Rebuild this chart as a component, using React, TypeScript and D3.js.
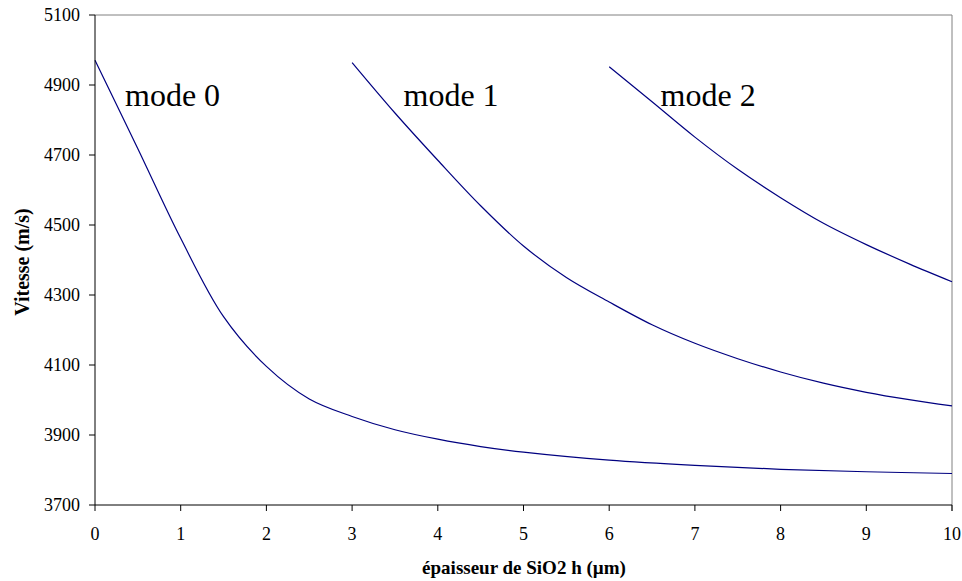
import React from "react";
import * as d3 from "d3";

const xTicks = [0, 1, 2, 3, 4, 5, 6, 7, 8, 9, 10];
const yTicks = [3700, 3900, 4100, 4300, 4500, 4700, 4900, 5100];

const mode0H = [0, 0.5, 1, 1.5, 2, 2.5, 3, 3.5, 4, 4.5, 5, 6, 7, 8, 9, 10];
const mode0V = [4971, 4718, 4462, 4238, 4096, 4003, 3953, 3915, 3888, 3867, 3851, 3828, 3813, 3802, 3795, 3790];

const mode1H = [3, 3.5, 4, 4.5, 5, 5.5, 6, 6.5, 7, 7.5, 8, 8.5, 9, 9.5, 10];
const mode1V = [4964, 4820, 4685, 4555, 4440, 4350, 4280, 4215, 4162, 4118, 4080, 4048, 4022, 4001, 3983];

const mode2H = [6, 6.5, 7, 7.5, 8, 8.5, 9, 9.5, 10];
const mode2V = [4952, 4852, 4751, 4659, 4578, 4505, 4444, 4389, 4338];

const labels = ["mode 0", "mode 1", "mode 2"];
const labelH = [0.35, 3.6, 6.6];

export default function App() {
  const W = 962, H = 581;
  const left = 95, right = 952, top = 15, bottom = 505;
  const x = d3.scaleLinear().domain([0, 10]).range([left, right]);
  const y = d3.scaleLinear().domain([3700, 5100]).range([bottom, top]);
  const line = d3
    .line<[number, number]>()
    .x((d) => x(d[0]))
    .y((d) => y(d[1]))
    .curve(d3.curveCatmullRom.alpha(0.5));
  const series = [
    [mode0H, mode0V],
    [mode1H, mode1V],
    [mode2H, mode2V],
  ].map(([hs, vs]) => hs.map((h, i) => [h, vs[i]] as [number, number]));
  const ff = { fontFamily: "Liberation Serif" };
  return (
    <svg width={W} height={H} style={{ position: "absolute", left: 0, top: 0, background: "#fff" }}>
      <rect x={0} y={0} width={W} height={H} fill="#fff" />
      <line x1={left} y1={top} x2={right} y2={top} stroke="#808080" strokeWidth={1} />
      <line x1={right} y1={top} x2={right} y2={bottom + 6} stroke="#808080" strokeWidth={1} />
      {series.map((s, i) => (
        <path key={i} d={line(s) || ""} fill="none" stroke="#000080" strokeWidth={1.2} />
      ))}
      <line x1={left} y1={top} x2={left} y2={bottom} stroke="#000" strokeWidth={1} />
      <line x1={left} y1={bottom} x2={right} y2={bottom} stroke="#000" strokeWidth={1} />
      {yTicks.map((t) => (
        <g key={t}>
          <line x1={left - 6} x2={left} y1={y(t)} y2={y(t)} stroke="#000" />
          <text x={80} y={y(t)} dy="0.35em" textAnchor="end" fontSize={18} style={ff}>
            {t}
          </text>
        </g>
      ))}
      {xTicks.map((t) => (
        <g key={t}>
          <line x1={x(t)} x2={x(t)} y1={bottom} y2={bottom + 6} stroke="#000" />
          <text x={x(t)} y={540} textAnchor="middle" fontSize={18} style={ff}>
            {t}
          </text>
        </g>
      ))}
      {labels.map((l, i) => (
        <text key={l} x={x(labelH[i])} y={106} fontSize={32} style={ff}>
          {l}
        </text>
      ))}
      <text x={524} y={574} textAnchor="middle" fontSize={19} fontWeight="bold" style={ff}>
        épaisseur de SiO2 h (µm)
      </text>
      <text
        transform={`translate(29, 262) rotate(-90)`}
        textAnchor="middle"
        fontSize={20}
        fontWeight="bold"
        style={ff}
      >
        Vitesse (m/s)
      </text>
    </svg>
  );
}
